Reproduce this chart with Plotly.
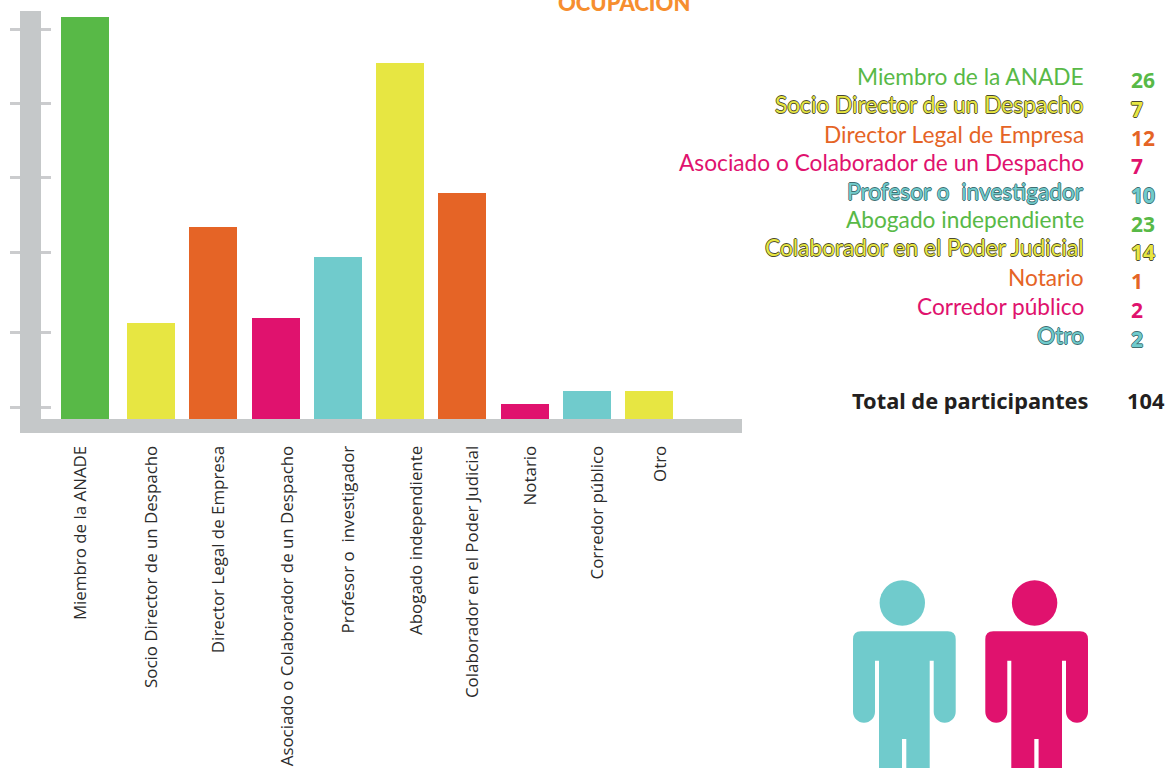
import plotly.graph_objects as go

categories = ["Miembro de la ANADE", "Socio Director de un Despacho", "Director Legal de Empresa",
              "Asociado o Colaborador de un Despacho", "Profesor o  investigador", "Abogado independiente",
              "Colaborador en el Poder Judicial", "Notario", "Corredor público", "Otro"]
bar_slots = [-0.06, 1, 2, 3, 4, 5, 6, 7, 8, 9]
bar_values = [26.0, 6.2, 12.4, 6.56, 10.5, 23.0, 14.6, 0.97, 1.8, 1.8]
bar_colors = ["#58b947", "#e7e642", "#e56426", "#e0126e", "#70cbcc",
              "#e7e642", "#e56426", "#e0126e", "#70cbcc", "#e7e642"]
label_slots = [-0.14, 1.016, 2.09, 3.185, 4.18, 5.27, 6.17, 7.10, 8.18, 9.19]
axis_ticks = [0.74, 5.59, 10.8, 15.59, 20.4, 25.2]

legend_names = categories
legend_counts = [26, 7, 12, 7, 10, 23, 14, 1, 2, 2]
legend_colors = ["#58b947", "#e7e642", "#e56426", "#e0126e", "#70cbcc",
                 "#58b947", "#e7e642", "#e56426", "#e0126e", "#70cbcc"]
legend_outline = [None, "#4a4a30", None, None, "#3f6f72", None, "#4a4a30", None, None, "#3f6f72"]
total_label = "Total de participantes"
total_value = 104

W, H = 1172, 768
L, R, T, B = 41, 742, 11, 419
def px(x): return (x - L) / (R - L)
def py(y): return (B - y) / (B - T)

FONT = "Lato"
fig = go.Figure()
fig.add_trace(go.Bar(x=bar_slots, y=bar_values, width=48 / 62.25, marker=dict(color=bar_colors, line=dict(width=0)),
                     hoverinfo="skip", showlegend=False))
fig.add_trace(go.Scatter(x=[0], y=[0], yaxis="y2", mode="markers", marker=dict(opacity=0),
                         hoverinfo="skip", showlegend=False))

def shadow(c):
    return f"-0.7px 0 {c}, 0.7px 0 {c}, 0 -0.7px {c}, 0 0.7px {c}"

anns = []
name_y = [77, 105, 134, 162, 191, 220, 248, 277, 306, 335]
num_y = [80, 109, 138, 166, 195, 224, 252, 281, 310, 339]
for n, cnt, col, out, y1, y2 in zip(legend_names, legend_counts, legend_colors, legend_outline, name_y, num_y):
    f1 = dict(family=FONT, size=22.7, color=col)
    f2 = dict(family="Noto Sans", size=21, color=col, weight=700)
    if out:
        f1["shadow"] = shadow(out)
        f2["shadow"] = shadow(out)
    anns.append(dict(text=n, xref="paper", yref="paper", x=px(1085.5), y=py(y1), xanchor="right", yanchor="middle",
                     showarrow=False, font=f1))
    anns.append(dict(text=str(cnt), xref="paper", yref="paper", x=px(1128.5), y=py(y2), xanchor="left", yanchor="middle",
                     showarrow=False, font=f2))
anns.append(dict(text=total_label, xref="paper", yref="paper", x=px(1091), y=py(400), xanchor="right", yanchor="middle",
                 showarrow=False, font=dict(family="Noto Sans", size=21.8, color="#231f20", weight=700)))
anns.append(dict(text=str(total_value), xref="paper", yref="paper", x=px(1125), y=py(400), xanchor="left", yanchor="middle",
                 showarrow=False, font=dict(family="Noto Sans", size=21.8, color="#231f20", weight=700)))
anns.append(dict(text="OCUPACIÓN", xref="paper", yref="paper", x=px(623.5), y=py(12), xanchor="center", yanchor="bottom",
                 yshift=-6, showarrow=False, font=dict(family="Lato", size=22, color="#f68e2f", weight=900)))

def person(dx, color):
    pts = lambda x, y: f"{px(x + dx):.5f},{py(y):.5f}"
    k = 11 * 0.55
    top, armb, gap, leg, bot = 631.3, 711.7, 660.7, 739, 769
    p = ["M", pts(861, top), "L", pts(947.7, top), "Q", pts(955.7, top), pts(955.7, top + 8),
         "L", pts(955.7, armb),
         "C", pts(955.7, armb + k), pts(950.7, armb + 11), pts(944.7, armb + 11),
         "C", pts(938.7, armb + 11), pts(933.7, armb + k), pts(933.7, armb),
         "L", pts(933.7, gap), "L", pts(929.7, gap), "L", pts(929.7, bot), "L", pts(906.3, bot),
         "L", pts(906.3, leg), "L", pts(902, leg), "L", pts(902, bot), "L", pts(879, bot),
         "L", pts(879, gap), "L", pts(875, gap), "L", pts(875, armb),
         "C", pts(875, armb + k), pts(870, armb + 11), pts(864, armb + 11),
         "C", pts(858, armb + 11), pts(853, armb + k), pts(853, armb),
         "L", pts(853, top + 8), "Q", pts(853, top), pts(861, top), "Z"]
    path = " ".join(p)
    return [dict(type="path", xref="paper", yref="paper", path=path, fillcolor=color, line=dict(width=0)),
            dict(type="circle", xref="paper", yref="paper", x0=px(879.6 + dx), x1=px(925 + dx),
                 y0=py(625.7), y1=py(580.3), fillcolor=color, line=dict(width=0))]

fig.update_layout(
    width=W, height=H, autosize=False, bargap=0,
    margin=dict(l=L, r=W - R, t=T, b=H - B, pad=0),
    paper_bgcolor="white", plot_bgcolor="white",
    showlegend=False,
    font=dict(family=FONT, color="#2b2b2b"),
    xaxis=dict(range=[(L - 88.75) / 62.25, (R - 88.75) / 62.25], tickmode="array", tickvals=label_slots,
               ticktext=categories, tickangle=-90, ticks="", showgrid=False, zeroline=False, automargin=False,
               showline=True, linecolor="#c5c8c9", linewidth=14, ticklabelstandoff=6,
               tickfont=dict(family="Open Sans", size=16.9, color="#2b2b2b")),
    yaxis=dict(range=[0, (B - T) / 15.46], tickmode="array", tickvals=axis_ticks, showticklabels=False,
               ticks="outside", ticklen=10, tickwidth=2.5, tickcolor="#cbccce", showgrid=False, zeroline=False,
               automargin=False, showline=True, linecolor="#c5c8c9", linewidth=21),
    yaxis2=dict(range=[0, (B - T) / 15.46], overlaying="y", side="left", tickmode="array", tickvals=axis_ticks,
                showticklabels=False, ticks="inside", ticklen=10, tickwidth=2.5, tickcolor="#cbccce",
                automargin=False, showgrid=False, zeroline=False, showline=False),
    annotations=anns,
    shapes=person(0, "#70cbcc") + person(132.3, "#e0126e"),
)
fig.write_html("out.html", config=dict(displayModeBar=False),
               post_script="document.body.style.margin='0';document.body.style.overflow='hidden';")
